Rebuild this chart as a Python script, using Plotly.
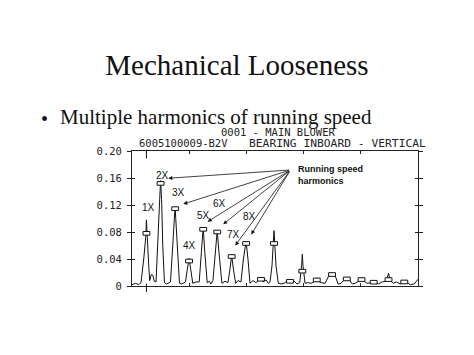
import plotly.graph_objects as go

# ---- data ----
# spectrum trace (x in running-speed orders, y amplitude)
trace_x = [0, 0.26, 0.47, 0.63, 0.82, 0.96, 1.01, 1.06, 1.17, 1.24, 1.35, 1.45, 1.56, 1.68,
           1.84, 1.94, 2.00, 2.07, 2.15, 2.27, 2.43, 2.69, 2.85, 2.96, 3.01, 3.06, 3.17, 3.32,
           3.48, 3.74, 3.87, 3.99, 4.11, 4.25, 4.46, 4.70, 4.85, 4.98, 5.09, 5.26, 5.42, 5.52,
           5.66, 5.83, 5.96, 6.08, 6.29, 6.50, 6.71, 6.85, 6.97, 7.09, 7.25, 7.41, 7.62, 7.79,
           7.98, 8.11, 8.25, 8.46, 8.67, 8.88, 9.02, 9.16, 9.37, 9.54, 9.65, 9.79, 9.88, 9.93,
           9.99, 10.07, 10.23, 10.42, 10.63, 10.82, 11.05, 11.35, 11.54, 11.73, 11.86, 11.91,
           11.96, 12.10, 12.31, 12.52, 12.73, 12.92, 13.05, 13.22, 13.50, 13.78, 13.99, 14.20,
           14.41, 14.62, 14.83, 15.02, 15.21, 15.40, 15.61, 15.91, 16.05, 16.19, 16.44, 16.78,
           16.90, 17.01, 17.22, 17.50, 17.78, 17.94, 18.06, 18.27, 18.48, 18.76, 19.04, 19.27,
           19.46, 19.74, 20.0]
trace_y = [0.002, 0.004, 0.002, 0.005, 0.040, 0.072, 0.098, 0.072, 0.030, 0.008, 0.017, 0.016,
           0.007, 0.006, 0.070, 0.130, 0.156, 0.128, 0.060, 0.005, 0.003, 0.006, 0.060, 0.102,
           0.117, 0.100, 0.050, 0.004, 0.003, 0.006, 0.025, 0.041, 0.024, 0.004, 0.006, 0.006,
           0.050, 0.087, 0.050, 0.005, 0.007, 0.003, 0.008, 0.050, 0.082, 0.050, 0.004, 0.007,
           0.005, 0.025, 0.045, 0.025, 0.004, 0.008, 0.006, 0.040, 0.066, 0.040, 0.004, 0.008,
           0.005, 0.009, 0.011, 0.006, 0.009, 0.004, 0.006, 0.030, 0.060, 0.082, 0.060, 0.030,
           0.004, 0.003, 0.004, 0.007, 0.008, 0.007, 0.003, 0.005, 0.030, 0.047, 0.030, 0.004,
           0.005, 0.004, 0.006, 0.012, 0.007, 0.005, 0.004, 0.016, 0.018, 0.016, 0.003, 0.004,
           0.009, 0.010, 0.009, 0.003, 0.004, 0.009, 0.010, 0.008, 0.004, 0.005, 0.006, 0.005,
           0.003, 0.006, 0.007, 0.019, 0.008, 0.004, 0.006, 0.003, 0.006, 0.005, 0.002, 0.003,
           0.010]

# peak-marker boxes
box_x = [1.01, 2.00, 3.02, 3.99, 4.98, 5.96, 6.97, 7.98, 9.02, 9.93, 11.05, 11.91, 12.92,
         13.99, 15.02, 16.05, 16.90, 17.94, 19.04]
box_y = [0.078, 0.152, 0.1146, 0.037, 0.084, 0.080, 0.0437, 0.063, 0.010, 0.063, 0.007,
         0.022, 0.009, 0.017, 0.0105, 0.0095, 0.0056, 0.0095, 0.006]

# harmonic labels
label_text = ["1X", "2X", "3X", "4X", "5X", "6X", "7X", "8X"]
label_x = [1.12, 2.13, 3.25, 4.03, 4.99, 6.12, 7.10, 8.25]
label_y = [0.1166, 0.1644, 0.1382, 0.0607, 0.1041, 0.1215, 0.077, 0.1025]

# arrows from the "Running speed harmonics" note
arrow_x = [2.54, 3.59, 5.29, 6.38, 7.22, 8.34]
arrow_y = [0.1596, 0.1215, 0.0953, 0.0914, 0.060, 0.0763]
arrow_tail_x = 11.08
arrow_tail_y = 0.1719

ytick_vals = [0, 0.04, 0.08, 0.12, 0.16, 0.20]
ytick_text = ["0", "0.04", "0.08", "0.12", "0.16", "0.20"]
xtick_vals = [4, 8, 12, 16]
cursor_x = 1.01

MONO = "DejaVu Sans Mono"
SANS = "Liberation Sans"
SERIF = "Liberation Serif"

fig = go.Figure()
fig.add_trace(go.Scatter(x=trace_x, y=trace_y, mode="lines",
                         line=dict(color="#111111", width=1), hoverinfo="skip",
                         showlegend=False))
# invisible trace to activate second y axis
fig.add_trace(go.Scatter(x=[0], y=[0], yaxis="y2", mode="markers",
                         marker=dict(opacity=0), showlegend=False, hoverinfo="skip"))

shapes = []
hw, hh = 0.24, 0.0027
for bx, by in zip(box_x, box_y):
    shapes.append(dict(type="rect", xref="x", yref="y", x0=bx - hw, x1=bx + hw,
                       y0=by - hh, y1=by + hh, fillcolor="white",
                       line=dict(color="#111111", width=1), layer="above"))
shapes.append(dict(type="line", xref="x", yref="paper", x0=cursor_x, x1=cursor_x,
                   y0=0.945, y1=1.01, line=dict(color="#111111", width=1)))
shapes.append(dict(type="line", xref="x", yref="paper", x0=cursor_x, x1=cursor_x,
                   y0=-0.044, y1=0.018, line=dict(color="#111111", width=1)))

ann = []
for t, lx, ly in zip(label_text, label_x, label_y):
    ann.append(dict(text=t, x=lx, y=ly, xref="x", yref="y", showarrow=False,
                    font=dict(family=SANS, size=10, color="#111111")))
for hx, hy in zip(arrow_x, arrow_y):
    ann.append(dict(text="", x=hx, y=hy, xref="x", yref="y", ax=arrow_tail_x,
                    ay=arrow_tail_y, axref="x", ayref="y", showarrow=True,
                    arrowhead=2, arrowsize=1, arrowwidth=0.8, arrowcolor="#111111",
                    standoff=0, startstandoff=0))
ann.append(dict(text="<b>Running speed<br>harmonics</b>", x=0.573, y=0.822,
                xref="paper", yref="paper", xanchor="left", yanchor="middle",
                align="left", showarrow=False,
                font=dict(family=SANS, size=9, color="#111111")))
ann.append(dict(text="0001 - MAIN BLOWER", x=0.509, y=1.142, xref="paper", yref="paper",
                xanchor="center", yanchor="middle", showarrow=False,
                font=dict(family=MONO, size=10.5, color="#222222")))
ann.append(dict(text="6005100009-B2V", x=0.0175, y=1.059, xref="paper", yref="paper",
                xanchor="left", yanchor="middle", showarrow=False,
                font=dict(family=MONO, size=10.5, color="#222222")))
ann.append(dict(text="BEARING INBOARD - VERTICAL", x=0.402, y=1.059, xref="paper",
                yref="paper", xanchor="left", yanchor="middle", showarrow=False,
                font=dict(family=MONO, size=11.3, color="#222222")))
ann.append(dict(text="•", x=-0.306, y=1.24, xref="paper", yref="paper",
                xanchor="center", yanchor="middle", showarrow=False,
                font=dict(family=SERIF, size=20, color="#111111")))
ann.append(dict(text="Multiple harmonics of running speed", x=-0.259, y=1.252,
                xref="paper", yref="paper", xanchor="left", yanchor="middle",
                showarrow=False, font=dict(family=SERIF, size=21, color="#111111")))

# the page body adds an 8px offset; the figure is sized and placed to absorb it
fig.update_layout(
    width=466, height=347,
    margin=dict(l=124, r=56, t=143, b=69),
    paper_bgcolor="white", plot_bgcolor="white",
    title=dict(text="Mechanical Looseness", x=229 / 466, xanchor="center",
               y=1 - 57 / 347, yanchor="middle", yref="container",
               font=dict(family=SERIF, size=29, color="#111111")),
    xaxis=dict(range=[0, 20], showgrid=False, zeroline=False,
               showline=True, linecolor="#222222", linewidth=1, mirror="ticks",
               ticks="inside", ticklen=3, tickcolor="#222222",
               tickvals=xtick_vals, showticklabels=False, fixedrange=True),
    yaxis=dict(range=[0, 0.2], showgrid=False, zeroline=False,
               showline=True, linecolor="#222222", linewidth=1, mirror="ticks",
               ticks="outside", ticklen=4, tickcolor="#222222",
               tickvals=ytick_vals, ticktext=ytick_text, ticklabelstandoff=3,
               tickfont=dict(family=MONO, size=10.5, color="#222222")),
    yaxis2=dict(range=[0, 0.2], overlaying="y", side="left", showgrid=False,
                zeroline=False, showline=False, mirror="ticks", ticks="inside",
                ticklen=3, tickcolor="#222222", tickvals=ytick_vals,
                showticklabels=False),
    shapes=shapes,
    annotations=ann,
    showlegend=False,
)

fig.write_html("out.html")
